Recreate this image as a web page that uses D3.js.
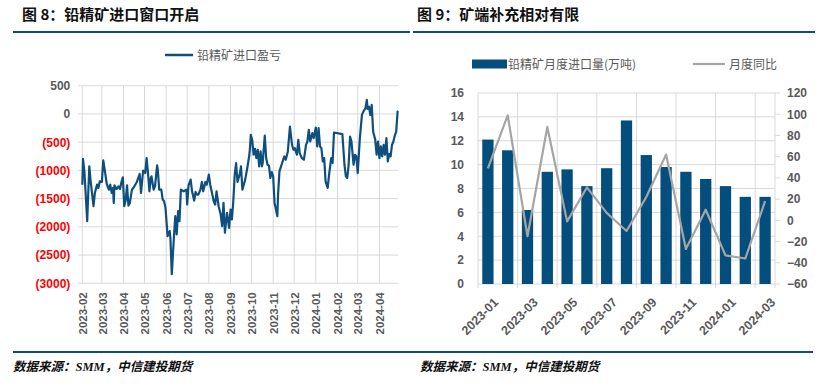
<!DOCTYPE html>
<html><head><meta charset="utf-8">
<script src="https://cdn.jsdelivr.net/npm/d3@7"></script>
<style>body{margin:0;background:#fff}svg{display:block}</style>
</head><body>
<svg id="c" width="827" height="386"></svg>
<script>
// ---------- Figure 8 data: lead concentrate import profit/loss ----------
const profitDates = [
"2023-02-01","2023-02-02","2023-02-04","2023-02-08","2023-02-11","2023-02-13","2023-02-17","2023-02-19","2023-02-22","2023-02-24","2023-02-26",
"2023-03-01","2023-03-03","2023-03-05","2023-03-08","2023-03-11","2023-03-13","2023-03-15","2023-03-17","2023-03-18","2023-03-19","2023-03-22","2023-03-25","2023-03-27","2023-03-29","2023-03-31",
"2023-04-02","2023-04-04","2023-04-06","2023-04-08","2023-04-10","2023-04-13","2023-04-15","2023-04-20","2023-04-24","2023-04-26","2023-04-29",
"2023-05-02","2023-05-04","2023-05-06","2023-05-08","2023-05-10","2023-05-11","2023-05-14","2023-05-16","2023-05-19","2023-05-20","2023-05-22","2023-05-25","2023-05-27","2023-05-29","2023-05-31",
"2023-06-03","2023-06-06","2023-06-07","2023-06-09","2023-06-12","2023-06-14","2023-06-16","2023-06-18","2023-06-20","2023-06-22","2023-06-26","2023-06-30",
"2023-07-01","2023-07-03","2023-07-06","2023-07-08","2023-07-11","2023-07-13","2023-07-15","2023-07-17","2023-07-20","2023-07-22","2023-07-24","2023-07-27","2023-07-29",
"2023-08-01","2023-08-03","2023-08-06","2023-08-08","2023-08-10","2023-08-12","2023-08-15","2023-08-18","2023-08-20","2023-08-22","2023-08-24","2023-08-27","2023-08-30",
"2023-09-01","2023-09-03","2023-09-05","2023-09-07","2023-09-09","2023-09-11","2023-09-14","2023-09-16","2023-09-18","2023-09-22","2023-09-25","2023-09-28","2023-09-29","2023-09-30",
"2023-10-02","2023-10-04","2023-10-06","2023-10-08","2023-10-10","2023-10-12","2023-10-14","2023-10-16","2023-10-17","2023-10-20","2023-10-22","2023-10-24","2023-10-26","2023-10-28","2023-10-30",
"2023-11-01","2023-11-03","2023-11-05","2023-11-07","2023-11-08","2023-11-10","2023-11-13","2023-11-17","2023-11-19","2023-11-22","2023-11-25","2023-11-28","2023-11-30",
"2023-12-02","2023-12-05","2023-12-07","2023-12-09","2023-12-12","2023-12-15","2023-12-18","2023-12-20","2023-12-22","2023-12-24","2023-12-27","2023-12-29",
"2024-01-01","2024-01-03","2024-01-05","2024-01-07","2024-01-09","2024-01-11","2024-01-13","2024-01-15","2024-01-18","2024-01-20","2024-01-23","2024-01-25","2024-01-27",
"2024-02-08","2024-02-11","2024-02-13","2024-02-15","2024-02-17","2024-02-19","2024-02-21","2024-02-24","2024-02-26","2024-02-28",
"2024-03-01","2024-03-04","2024-03-07","2024-03-09","2024-03-12","2024-03-14","2024-03-15","2024-03-17","2024-03-19","2024-03-21","2024-03-23","2024-03-26","2024-03-28","2024-03-30",
"2024-04-01","2024-04-03","2024-04-05","2024-04-07","2024-04-09","2024-04-11","2024-04-13","2024-04-15","2024-04-17","2024-04-19","2024-04-21","2024-04-23","2024-04-25","2024-04-27","2024-04-28"];
const profitValues = [
-1253,-794,-1017,-1899,-929,-1194,-1635,-1399,-1253,-1311,-1194,
-1205,-823,-988,-1241,-1341,-1253,-1399,-1311,-1576,-1264,-1329,-1282,-1329,-1205,-1123,
-1635,-1535,-1264,-1623,-1576,-1341,-1311,-1205,-1064,-1399,-1005,
-1047,-782,-1047,-1370,-1135,-1105,-1341,-1282,-911,-988,-1341,-1341,-1517,-1546,-1664,
-2164,-2075,-2193,-2840,-2193,-1811,-2134,-1723,-1899,-1341,-1370,-1341,
-1605,-1264,-1164,-1370,-1535,-1382,-1429,-1429,-1341,-1205,-1370,-1205,-1253,
-1076,-1253,-1429,-1546,-1605,-1370,-1635,-1782,-1987,-1576,-2105,-1752,-2017,
-1693,-1870,-1546,-1076,-870,-1205,-1076,-929,-1341,-1164,-958,-723,-576,-370,
-459,-723,-617,-782,-635,-929,-664,-929,-870,-382,-782,-900,-917,-1135,-1029,
-1105,-1576,-1693,-1811,-1429,-1017,-900,-753,-811,-664,-223,-547,-635,
-606,-723,-459,-694,-782,-811,-547,-488,-282,-488,-341,-429,
-241,-576,-253,-576,-606,-841,-782,-1194,-1311,-1076,-782,-870,-329,
-359,-900,-1105,-1135,-900,-400,-488,-900,-723,-753,
-1047,-429,-18,41,100,247,88,129,-18,159,-312,-459,-723,-488,
-782,-576,-753,-547,-723,-429,-841,-711,-753,-547,-488,-382,-312,41,53];
const leftYTicks = [500,0,-500,-1000,-1500,-2000,-2500,-3000];

// ---------- Figure 9 data: monthly lead concentrate imports ----------
const importMonths = ["2023-01","2023-02","2023-03","2023-04","2023-05","2023-06","2023-07","2023-08","2023-09","2023-10","2023-11","2023-12","2024-01","2024-02","2024-03"];
const importVolume = [12.1,11.2,6.2,9.4,9.6,8.2,9.7,13.7,10.8,9.8,9.4,8.8,8.2,7.3,7.3];
const importYoY = [49,99,-15,88,-1,31,7,-10,22,62,-27,10,-33,-36,18];
const volTicks = [0,2,4,6,8,10,12,14,16];
const yoyTicks = [-60,-40,-20,0,20,40,60,80,100,120];

const svg = d3.select("#c");
const FONT = "'Liberation Sans','Noto Sans CJK SC',Arial,sans-serif";
const CJK = "'Noto Sans CJK SC','Liberation Sans',sans-serif";
const GRID = "#d9d9d9", TXT = "#595959", BLUE = "#0e4f7d", BAR = "#044e7d";

// ---------- headers & footers ----------
function header(x, x1, x2, title) {
  svg.append("text").attr("x", x).attr("y", 20).text(title)
    .attr("font-family", CJK).attr("font-weight", "bold").attr("font-size", 15).attr("fill", "#111");
  svg.append("line").attr("x1", x1).attr("x2", x2).attr("y1", 32).attr("y2", 32)
    .attr("stroke", "#0d4e80").attr("stroke-width", 2.2);
}
header(22, 13, 410, "图 8：铅精矿进口窗口开启");
header(417, 413, 815, "图 9：矿端补充相对有限");
svg.append("line").attr("x1", 13).attr("x2", 813).attr("y1", 352).attr("y2", 352)
  .attr("stroke", "#0d4e80").attr("stroke-width", 2.2);
[13, 420].forEach(x => {
  svg.append("text").attr("x", x).attr("y", 371).text("数据来源：SMM，中信建投期货")
    .attr("font-family", "'Liberation Serif','Noto Sans CJK SC',serif").attr("font-style", "italic")
    .attr("font-weight", "bold").attr("font-size", 12.5).attr("fill", "#111");
});

// ---------- Figure 8 ----------
const parse = d3.timeParse("%Y-%m-%d");
const pts = profitDates.map((d, i) => ({d: parse(d), v: profitValues[i]}));
const x1 = d3.scaleTime().domain([parse("2023-02-01"), parse("2024-04-28")]).range([82.3, 398.3]);
const y1 = d3.scaleLinear().domain([-3000, 500]).range([283.3, 85.7]);
const g1 = svg.append("g");
const monthTicks = d3.timeMonth.range(parse("2023-02-01"), parse("2024-04-02"));
g1.selectAll(".hg").data(leftYTicks).join("line")
  .attr("x1", 78).attr("x2", 398.3).attr("y1", d => y1(d)).attr("y2", d => y1(d))
  .attr("stroke", GRID).attr("stroke-width", 1);
g1.selectAll(".vg").data(monthTicks).join("line")
  .attr("x1", d => x1(d)).attr("x2", d => x1(d)).attr("y1", y1(500)).attr("y2", y1(-3000))
  .attr("stroke", GRID).attr("stroke-width", 1);
const yAx1 = d3.axisLeft(y1).tickValues(leftYTicks).tickSize(0).tickPadding(12)
  .tickFormat(d => d < 0 ? "(" + (-d) + ")" : String(d));
const ya = g1.append("g").attr("transform", "translate(82.3,0)").call(yAx1);
ya.select(".domain").remove();
ya.selectAll("text").attr("font-family", FONT).attr("font-weight", "bold").attr("font-size", 12)
  .attr("fill", d => d < 0 ? "#ff0000" : TXT);
const xAx1 = d3.axisBottom(x1).tickValues(monthTicks).tickFormat(d3.timeFormat("%Y-%m")).tickSize(0);
const xa = g1.append("g").attr("transform", "translate(0,283.3)").call(xAx1);
xa.select(".domain").remove();
xa.selectAll("text").attr("font-family", FONT).attr("font-weight", "bold").attr("font-size", 11.5)
  .attr("fill", TXT).attr("text-anchor", "end")
  .attr("transform", "rotate(-90)").attr("x", -9).attr("y", 0).attr("dy", "0.36em");
g1.append("path").datum(pts)
  .attr("d", d3.line().x(d => x1(d.d)).y(d => y1(d.v)))
  .attr("fill", "none").attr("stroke", BLUE).attr("stroke-width", 2.2).attr("stroke-linejoin", "round");
g1.append("line").attr("x1", 165).attr("x2", 193).attr("y1", 55).attr("y2", 55)
  .attr("stroke", BLUE).attr("stroke-width", 2.5);
g1.append("text").attr("x", 197).attr("y", 59.5).text("铅精矿进口盈亏")
  .attr("font-family", CJK).attr("font-size", 12).attr("fill", TXT);

// ---------- Figure 9 ----------
const xb = d3.scaleBand().domain(importMonths).range([478, 775]).paddingInner(0.43).paddingOuter(0.215);
const yL = d3.scaleLinear().domain([0, 16]).range([284, 93]);
const yR = d3.scaleLinear().domain([-60, 120]).range([284, 93]);
const g2 = svg.append("g");
const step = xb.step();
const bounds = d3.range(0, importMonths.length + 1).filter(i => i % 2 === 0 || i === importMonths.length);
g2.selectAll(".hg").data(volTicks).join("line")
  .attr("x1", 478).attr("x2", 775).attr("y1", d => yL(d)).attr("y2", d => yL(d))
  .attr("stroke", GRID);
g2.selectAll(".vg").data(bounds).join("line")
  .attr("x1", i => 478 + i * step).attr("x2", i => 478 + i * step).attr("y1", 93).attr("y2", 288)
  .attr("stroke", GRID);
g2.selectAll(".rt").data(yoyTicks).join("line")
  .attr("x1", 775).attr("x2", 780).attr("y1", d => yR(d)).attr("y2", d => yR(d)).attr("stroke", GRID);
g2.selectAll(".bar").data(importMonths).join("rect")
  .attr("x", d => xb(d)).attr("width", xb.bandwidth())
  .attr("y", (d, i) => yL(importVolume[i])).attr("height", (d, i) => yL(0) - yL(importVolume[i]))
  .attr("fill", BAR);
g2.append("path").datum(importYoY)
  .attr("d", d3.line().x((d, i) => xb(importMonths[i]) + xb.bandwidth() / 2).y(d => yR(d)))
  .attr("fill", "none").attr("stroke", "#a5a5a5").attr("stroke-width", 2.2).attr("stroke-linejoin", "round");
const la = g2.append("g").attr("transform", "translate(478,0)")
  .call(d3.axisLeft(yL).tickValues(volTicks).tickSize(0).tickPadding(14));
la.select(".domain").remove();
la.selectAll("text").attr("font-family", FONT).attr("font-weight", "bold").attr("font-size", 12).attr("fill", TXT);
const ra = g2.append("g").attr("transform", "translate(775,0)")
  .call(d3.axisRight(yR).tickValues(yoyTicks).tickSize(0).tickPadding(12));
ra.select(".domain").remove();
ra.selectAll("text").attr("font-family", FONT).attr("font-weight", "bold").attr("font-size", 12).attr("fill", TXT);
const ba = g2.append("g").attr("transform", "translate(0,284)")
  .call(d3.axisBottom(xb).tickValues(importMonths.filter((d, i) => i % 2 === 0)).tickSize(0));
ba.select(".domain").remove();
ba.selectAll("text").attr("font-family", FONT).attr("font-weight", "bold").attr("font-size", 12.5)
  .attr("fill", TXT).attr("text-anchor", "end")
  .attr("transform", "translate(5,13) rotate(-45)").attr("x", 0).attr("y", 0).attr("dy", "0.7em");
g2.append("rect").attr("x", 472).attr("y", 59.5).attr("width", 35).attr("height", 9).attr("fill", BAR);
g2.append("text").attr("x", 508).attr("y", 68.5).text("铅精矿月度进口量(万吨)")
  .attr("font-family", CJK).attr("font-size", 12).attr("fill", TXT);
g2.append("line").attr("x1", 693).attr("x2", 725).attr("y1", 64).attr("y2", 64)
  .attr("stroke", "#a5a5a5").attr("stroke-width", 2.2);
g2.append("text").attr("x", 729).attr("y", 68.5).text("月度同比")
  .attr("font-family", CJK).attr("font-size", 12).attr("fill", TXT);
</script>
</body></html>
